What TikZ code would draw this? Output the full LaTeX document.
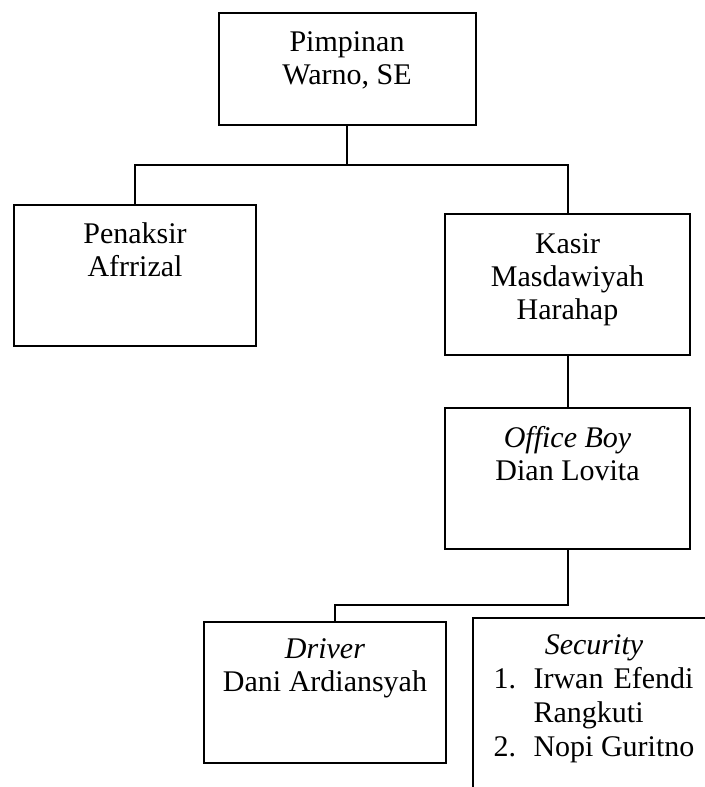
\documentclass[tikz,border=0pt]{standalone}
\usepackage{fontspec}
\setmainfont{Liberation Serif}
\begin{document}
\begin{tikzpicture}[x=0.4pt, y=-0.4pt, line width=0.8pt, box/.style={draw, rectangle, inner sep=0pt, minimum width=97pt, minimum height=56.4pt}, title/.style={anchor=north, inner sep=0pt, align=center, font={\fontsize{12}{13.2}\selectfont}}]

		\useasboundingbox (0,0) rectangle (705,787);
		\clip (0,0) rectangle (705,787);

		\node[box, minimum width=102.8pt, minimum height=44.8pt] (pimpinan) at (347,69) {};
		\node[box] (penaksir) at (135,275) {};
		\node[box, minimum width=98pt] (kasir) at (567.5,284) {};
		\node[box, minimum width=98pt] (officeboy) at (567.5,478.5) {};
		\node[box] (driver) at (325,692) {};
		\node[box, minimum width=114.8pt, minimum height=84.8pt] (security) at (616.5,724) {};

		\node[title] (tpimpinan) at ([yshift=-7.4pt]pimpinan.north) {Pimpinan\\Warno, SE};
		\node[title] (tpenaksir) at ([yshift=-7.2pt]penaksir.north) {Penaksir\\Afrrizal};
		\node[title] (tkasir) at ([yshift=-8pt]kasir.north) {Kasir\\Masdawiyah\\Harahap};
		\node[title] (tofficeboy) at ([yshift=-7.2pt]officeboy.north) {\textit{Office Boy}\\Dian Lovita};
		\node[title] (tdriver) at ([yshift=-6.8pt]driver.north) {\textit{Driver}\\Dani Ardiansyah};
		\node[title] (tsecurity) at (594,630) {\renewcommand{\arraystretch}{1.03}%
			\begin{tabular}{@{}l@{\hspace{7pt}}l@{}}
				\multicolumn{2}{c}{\textit{Security}}\\
				1. & Irwan\hspace{4pt}Efendi\\
				   & Rangkuti\\
				2. & Nopi Guritno
			\end{tabular}};

		\coordinate (bus) at (347,165);
		\coordinate (split) at (335,605);
		\draw (pimpinan.south) -- (pimpinan.south |- bus);
		\draw (penaksir.north) |- (bus) -| (kasir.north);
		\draw (kasir) -- (officeboy);
		\draw (officeboy.south) |- (split) -- (split |- driver.north);
	\end{tikzpicture}
\end{document}
